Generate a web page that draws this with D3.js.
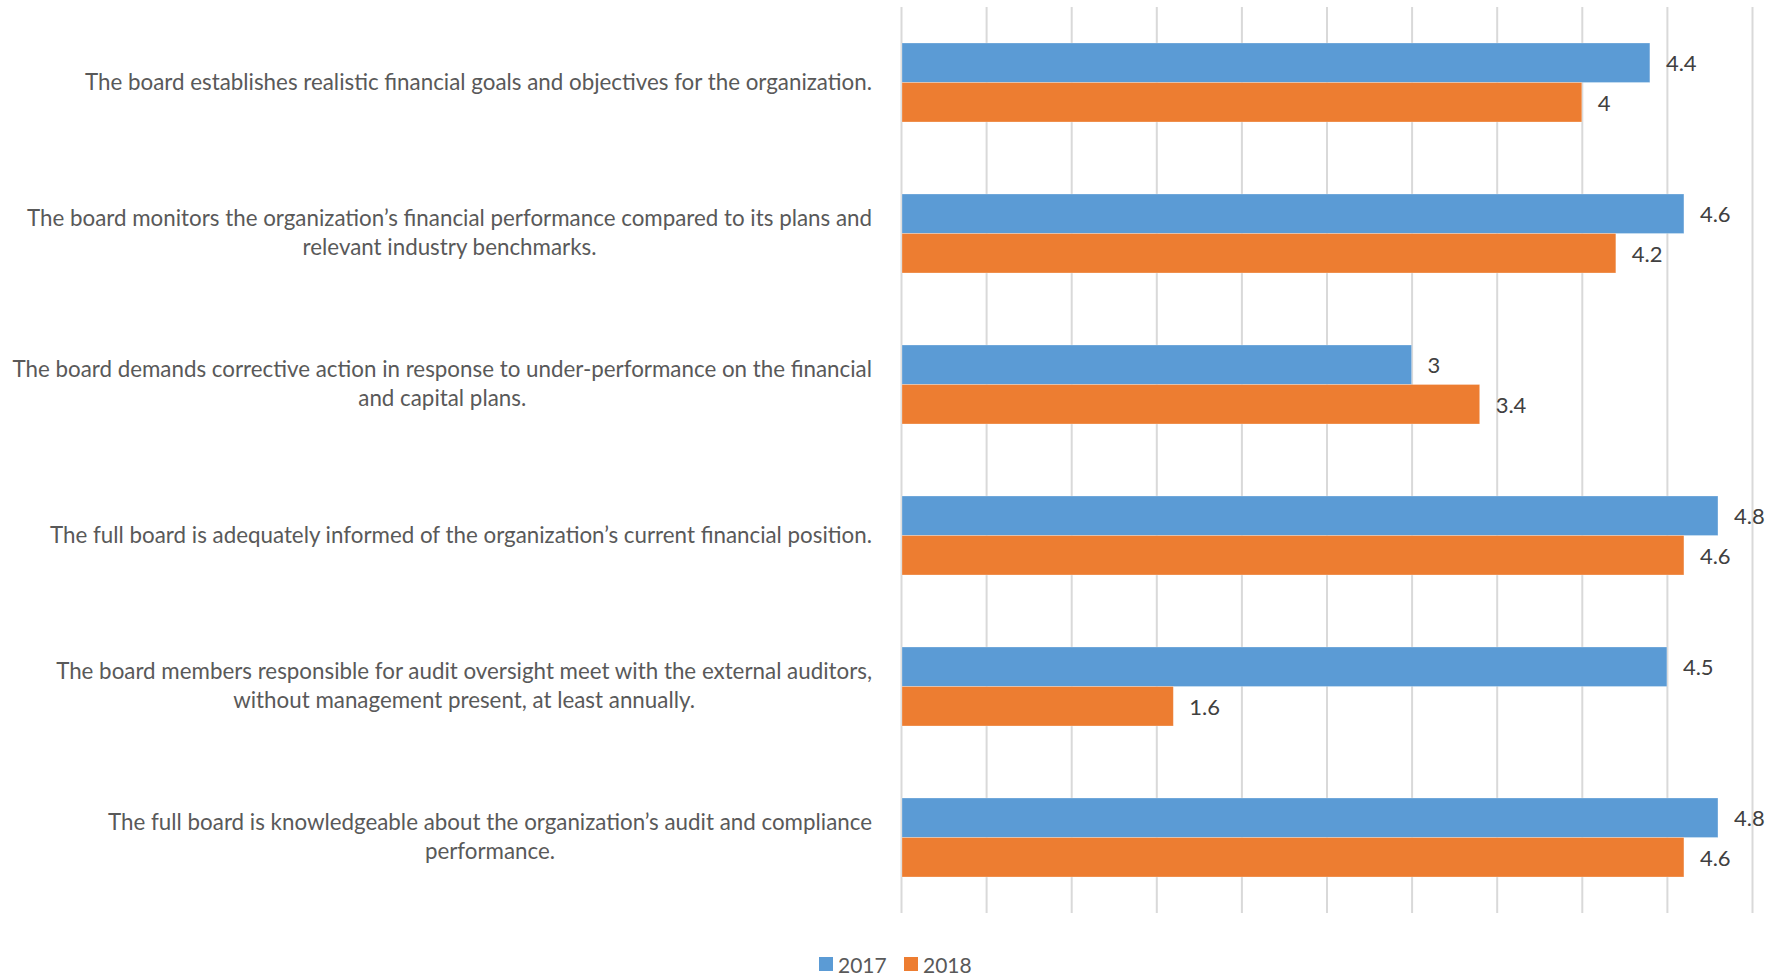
<!DOCTYPE html>
<html>
<head>
<meta charset="utf-8">
<script src="https://cdn.jsdelivr.net/npm/d3@7"></script>
<style>
  html, body { margin: 0; padding: 0; background: #fff; }
  svg { display: block; }
  text { font-family: Lato, "Open Sans", sans-serif; }
</style>
</head>
<body>
<svg id="chart" width="1784" height="976"></svg>
<script>
// Survey statements (each entry is a list of wrapped lines)
const categories = [
  ["The board establishes realistic financial goals and objectives for the organization."],
  ["The board monitors the organization\u2019s financial performance compared to its plans and", "relevant industry benchmarks."],
  ["The board demands corrective action in response to under-performance on the financial", "and capital plans."],
  ["The full board is adequately informed of the organization\u2019s current financial position."],
  ["The board members responsible for audit oversight meet with the external auditors,", "without management present, at least annually."],
  ["The full board is knowledgeable about the organization\u2019s audit and compliance", "performance."]
];
const seriesNames = ["2017", "2018"];
const values2017 = [4.4, 4.6, 3, 4.8, 4.5, 4.8];
const values2018 = [4, 4.2, 3.4, 4.6, 1.6, 4.6];
const xTicks = [0, 0.5, 1, 1.5, 2, 2.5, 3, 3.5, 4, 4.5, 5];
const colors = ["#5B9BD5", "#ED7D31"];

const svg = d3.select("#chart");
const plot = { left: 901, right: 1752, top: 7, bottom: 913 };
const labelRight = 872;

const x = d3.scaleLinear().domain([0, 5]).range([plot.left, plot.right]);
const y = d3.scaleBand()
  .domain(d3.range(categories.length))
  .range([plot.top, plot.bottom])
  .paddingInner(0.477)
  .paddingOuter(0.2385);
const ySub = d3.scaleBand().domain(seriesNames).range([0, y.bandwidth()]);

// Vertical gridlines
const xAxis = d3.axisBottom(x).tickValues(xTicks).tickSize(-(plot.bottom - plot.top)).tickFormat("");
const gx = svg.append("g").attr("transform", `translate(0,${plot.bottom})`).call(xAxis);
gx.select(".domain").remove();
gx.selectAll(".tick line").attr("stroke", "#d9d9d9").attr("stroke-width", 2);

// Bars
const rows = categories.map((c, i) => ({ i, vals: [values2017[i], values2018[i]] }));
const groups = svg.append("g").selectAll("g").data(rows).join("g")
  .attr("transform", d => `translate(0,${y(d.i)})`);

groups.selectAll("rect")
  .data(d => d.vals.map((v, k) => ({ v, k })))
  .join("rect")
  .attr("x", x(0) + 1)
  .attr("y", d => ySub(seriesNames[d.k]))
  .attr("width", d => x(d.v) - x(0) - 1)
  .attr("height", ySub.bandwidth())
  .attr("fill", d => colors[d.k])
  .attr("stroke", "#ffffff")
  .attr("stroke-opacity", 0.35)
  .attr("stroke-width", 0.75);

// Value labels
groups.selectAll("text.val")
  .data(d => d.vals.map((v, k) => ({ v, k })))
  .join("text")
  .attr("class", "val")
  .attr("x", d => x(d.v) + 16)
  .attr("y", d => ySub(seriesNames[d.k]) + ySub.bandwidth() / 2)
  .attr("dominant-baseline", "central")
  .attr("font-size", 22)
  .attr("fill", "#404040")
  .text(d => d3.format("")(d.v));

// Category labels: centred text block, right edge aligned next to the plot
const lineH = 28.4;
const labelG = svg.append("g");
categories.forEach((lines, i) => {
  const cy = y(i) + y.bandwidth() / 2 - 2;
  const t = labelG.append("text")
    .attr("font-size", 22.35)
    .attr("fill", "#595959")
    .attr("text-anchor", "middle")
    .attr("dominant-baseline", "central");
  const spans = lines.map((ln, j) => t.append("tspan")
    .attr("y", cy + (j - (lines.length - 1) / 2) * lineH)
    .text(ln));
  const w = d3.max(spans, s => s.node().getComputedTextLength());
  spans.forEach(s => s.attr("x", labelRight - w / 2));
});

// Legend
const legend = svg.append("g").attr("transform", "translate(819,957)");
const legendX = [0, 85];
seriesNames.forEach((name, k) => {
  legend.append("rect").attr("x", legendX[k]).attr("y", 0)
    .attr("width", 14).attr("height", 14).attr("fill", colors[k]);
  legend.append("text").attr("x", legendX[k] + 19).attr("y", 7)
    .attr("dominant-baseline", "central")
    .attr("font-size", 21).attr("fill", "#595959").text(name);
});
</script>
</body>
</html>
